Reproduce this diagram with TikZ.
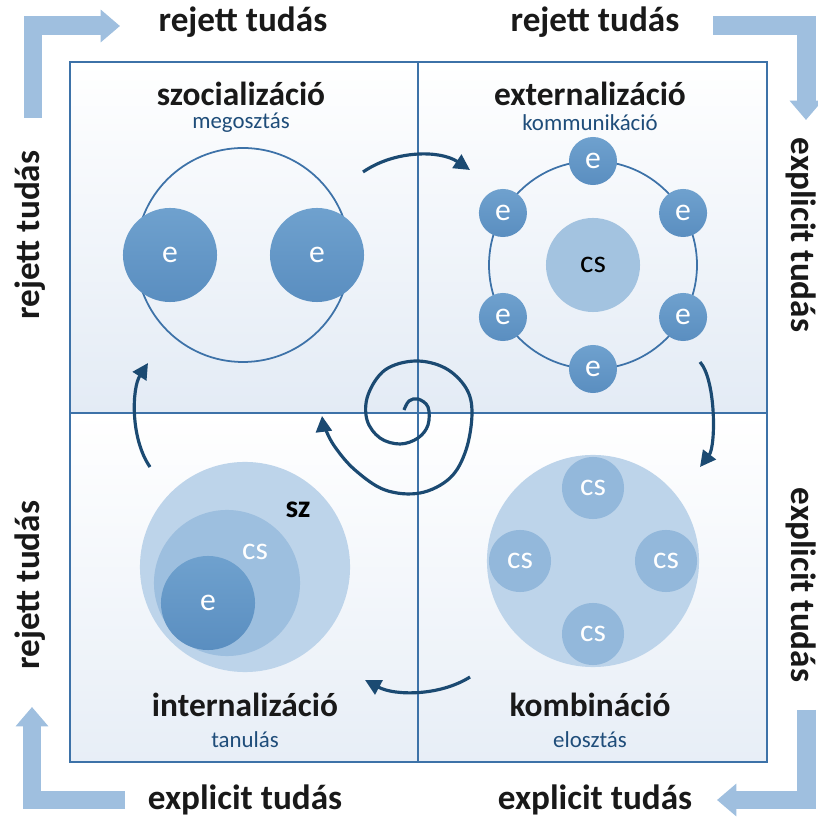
\documentclass[tikz,border=0pt]{standalone}
\usepackage{fontspec}
\setmainfont{Carlito}
\usetikzlibrary{positioning,arrows.meta,calc}
\definecolor{navy}{HTML}{1B4A72}
\definecolor{frame}{HTML}{3D72A8}
\definecolor{pale}{HTML}{9FBFDF}
\definecolor{qbot}{HTML}{E3EBF5}
\definecolor{ecol}{HTML}{6FA1CE}
\definecolor{ecoldk}{HTML}{5A8EC0}
\definecolor{cscol}{HTML}{93B8DB}
\definecolor{szcol}{HTML}{BDD4EA}
\definecolor{subc}{HTML}{1F4D7A}
\tikzset{
  tt/.style={font=\fontsize{9.5}{11}\selectfont\bfseries, text=black!90},
  st/.style={font=\fontsize{6.5}{8}\selectfont, text=subc},
  sl/.style={font=\fontsize{10}{12}\selectfont\bfseries, text=black!90},
  ec/.style={circle, inner sep=0pt, top color=ecol, bottom color=ecoldk, text=white, font=\fontsize{9}{10}\selectfont},
  cc/.style={circle, inner sep=0pt, fill=cscol, text=white, font=\fontsize{9}{10}\selectfont},
  disc/.style={circle, inner sep=0pt, fill=szcol},
  ring/.style={draw=frame, line width=0.5pt},
  flow/.style={draw=navy, line width=0.9pt, -{Triangle[length=4.5pt,width=4.5pt]}},
  cornerarr/.style={draw=pale, line width=5.4pt, line join=miter, -{Triangle[length=5.5pt,width=9pt]}},
  node distance=7mm
}
\begin{document}
\begin{tikzpicture}[x=0.01cm, y=0.01cm]
\useasboundingbox (0,0) rectangle (818,818);
% quadrants
\shade[top color=white, bottom color=qbot] (70,405) rectangle (418,756);
\shade[top color=white, bottom color=qbot] (418,405) rectangle (767,756);
\shade[top color=white, bottom color=qbot!85!white] (70,56) rectangle (418,405);
\shade[top color=white, bottom color=qbot!85!white] (418,56) rectangle (767,405);
\draw[frame, line width=0.6pt] (70,56) rectangle (767,756) (418,56) -- (418,756) (70,405) -- (767,405);

% corner arrows
\draw[cornerarr] (33,700) -- (33,792) -- (120,792);
\draw[cornerarr] (713,792) -- (806,792) -- (806,698);
\draw[cornerarr] (806,108) -- (806,18) -- (717,18);
\draw[cornerarr] (125,18) -- (32,18) -- (32,111);

% side labels
\node[sl] (top-l) at (243,796) {rejett tudás};
\node[sl] (top-r) at (595,796) {rejett tudás};
\node[sl] (bot-l) at (245,18) {explicit tudás};
\node[sl] (bot-r) at (595,18) {explicit tudás};
\node[sl, rotate=90] (lft-t) at (30,583) {rejett tudás};
\node[sl, rotate=90] (lft-b) at (30,233) {rejett tudás};
\node[sl, rotate=-90] (rgt-t) at (801,583) {explicit tudás};
\node[sl, rotate=-90] (rgt-b) at (801,233) {explicit tudás};

% quadrant titles
\node[tt] (szoc) at (241,724) {szocializáció};
\node[st] (szoc-s) at (241,695) {megosztás};
\node[tt] (ext) at (590,724) {externalizáció};
\node[st] (ext-s) at (590,695) {kommunikáció};
\node[tt] (int) at (245,113) {internalizáció};
\node[st] (int-s) at (245,78) {tanulás};
\node[tt] (komb) at (590,113) {kombináció};
\node[st] (komb-s) at (590,78) {elosztás};

% szocializacio
\draw[ring] (243,563) circle (107);
\node[ec, minimum size=0.94cm] (e-l) at (170,563) {e};
\node[ec, minimum size=0.94cm] (e-r) at (317,563) {e};

% externalizacio
\coordinate (hub) at (593,553);
\draw[ring] (hub) circle (104);
\node[cc, minimum size=0.94cm, text=black, fill=cscol!85!white] (cs-mid) at (hub) {cs};
\foreach \a [count=\i] in {90,30,-30,-90,-150,150}
  \node[ec, minimum size=0.48cm] (s\i) at ($(hub)+(\a:104)$) {e};

% kombinacio
\coordinate (pool) at (593,257);
\node[disc, minimum size=2.12cm] (pool-c) at (pool) {};
\foreach \a [count=\i] in {90,0,-90,180}
  \node[cc, minimum size=0.62cm] (k\i) at ($(pool)+(\a:73)$) {cs};

% internalizacio
\node[disc, minimum size=2.1cm] (sz-c) at (245,251) {};
\node[disc, fill=cscol!75!szcol, minimum size=1.46cm] (cs-c) at (227,235) {};
\node[ec, minimum size=0.94cm] (e-in) at (208,215) {e};
\node[font=\fontsize{9}{10}\selectfont\bfseries] (sz-t) at (298,308) {sz};
\node[font=\fontsize{9}{10}\selectfont, text=white] (cs-t) at (255,266) {cs};

% cycle arrows
\coordinate (f1a) at (363,646); \coordinate (f1b) at (470,648);
\coordinate (f2a) at (700,456); \coordinate (f2b) at (700,351);
\coordinate (f3a) at (470,141); \coordinate (f3b) at (365,138);
\coordinate (f4a) at (150,351); \coordinate (f4b) at (148,455);
\draw[flow] (f1a) .. controls (395,668) and (440,668) .. (f1b);
\draw[flow] (f2a) .. controls (716,438) and (716,372) .. (f2b);
\draw[flow] (f3a) .. controls (440,122) and (395,122) .. (f3b);
\draw[flow] (f4a) .. controls (130,380) and (132,430) .. (f4b);

% spiral
\draw[flow] plot[smooth, tension=0.6] coordinates {(404,408) (409,417) (418,419) (428,411) (428,393) (418,380) (400,374) (380,380) (367,398) (368,423) (385,448) (415,457) (445,450) (466,430) (472,405) (466,368) (450,340) (420,325) (385,328) (355,348) (335,371) (325,390) (322,402)};
\end{tikzpicture}
\end{document}
